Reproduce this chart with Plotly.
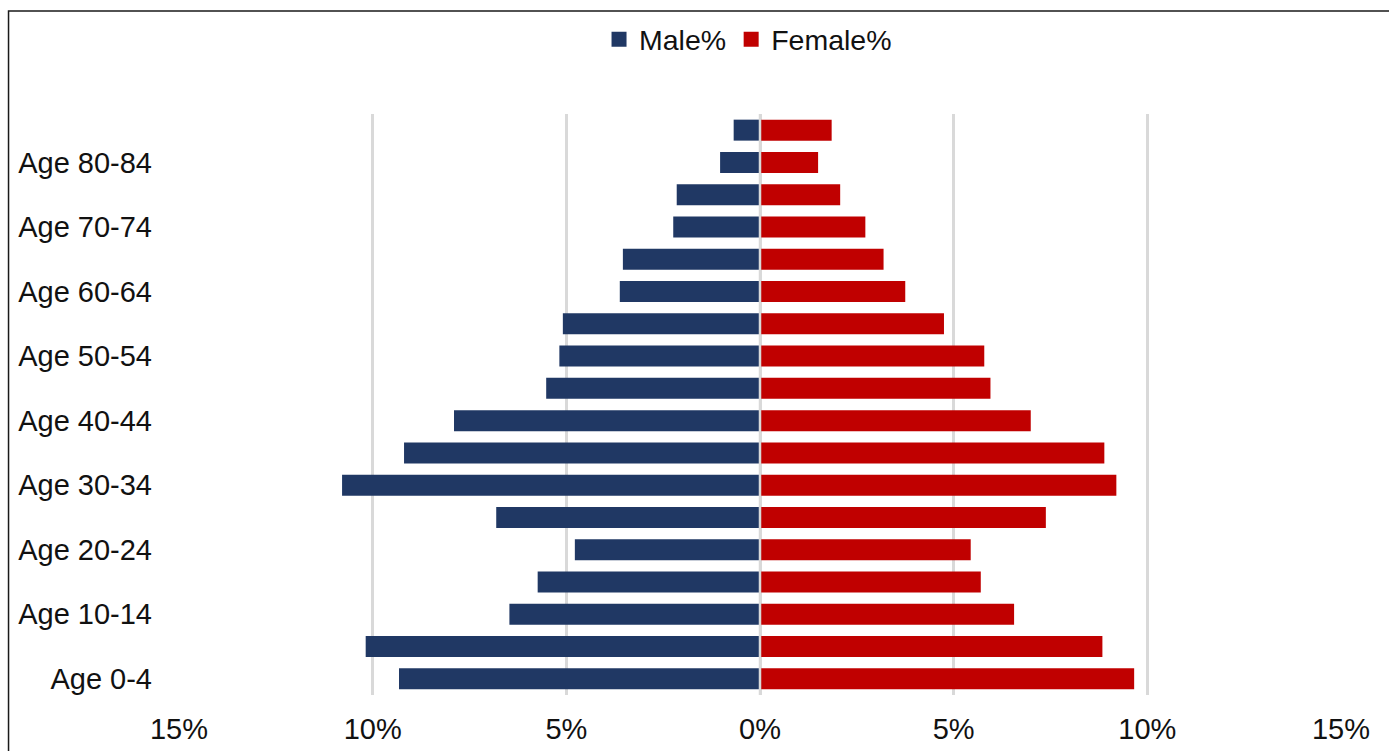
import plotly.graph_objects as go

# Age bands, youngest first (drawn bottom to top)
age_groups = [
    "Age 0-4", "Age 5-9", "Age 10-14", "Age 15-19", "Age 20-24", "Age 25-29",
    "Age 30-34", "Age 35-39", "Age 40-44", "Age 45-49", "Age 50-54", "Age 55-59",
    "Age 60-64", "Age 65-69", "Age 70-74", "Age 75-79", "Age 80-84", "Age 85+",
]
male_pct = [9.32, 10.18, 6.47, 5.74, 4.78, 6.81, 10.79, 9.19, 7.90, 5.52,
            5.18, 5.09, 3.62, 3.54, 2.24, 2.15, 1.03, 0.68]
female_pct = [9.66, 8.84, 6.56, 5.70, 5.44, 7.38, 9.20, 8.89, 6.99, 5.95,
              5.79, 4.75, 3.75, 3.19, 2.72, 2.07, 1.50, 1.85]

x_ticks = [-15, -10, -5, 0, 5, 10, 15]
x_tick_text = ["15%", "10%", "5%", "0%", "5%", "10%", "15%"]
y_label_groups = age_groups[0:17:2]  # every other band: Age 0-4 ... Age 80-84

MALE_COLOR = "#203864"
FEMALE_COLOR = "#C00000"
FONT = "Liberation Sans, Arial, sans-serif"

fig = go.Figure()
fig.add_trace(go.Bar(
    y=age_groups, x=[-v for v in male_pct], orientation="h", name="Male%",
    marker=dict(color=MALE_COLOR, line=dict(width=0)),
    legendgroup="m", showlegend=False,
))
fig.add_trace(go.Bar(
    y=age_groups, x=female_pct, orientation="h", name="Female%",
    marker=dict(color=FEMALE_COLOR, line=dict(width=0)),
    legendgroup="f", showlegend=False,
))

# Legend entries with larger square keys
for name, color, group in [("Male%", MALE_COLOR, "m"), ("Female%", FEMALE_COLOR, "f")]:
    fig.add_trace(go.Scatter(
        x=[None], y=[None], mode="markers", name=name, legendgroup=group,
        marker=dict(symbol="square", size=15, color=color),
        hoverinfo="skip",
    ))

# Centre line at 0% showing between the two halves of each bar
fig.add_shape(type="line", xref="x", yref="paper", x0=0, x1=0, y0=0, y1=1,
              line=dict(color="#D9D9D9", width=2.5), layer="above")

# Chart frame
fig.add_shape(type="rect", xref="paper", yref="paper",
              x0=-0.1467, x1=1.06, y0=-0.12, y1=1.1771,
              line=dict(color="#1a1a1a", width=1.5), layer="above")

fig.update_layout(
    width=1389, height=751,
    margin=dict(l=178.5, r=48, t=114, b=55.5, pad=0, autoexpand=False),
    paper_bgcolor="white", plot_bgcolor="white",
    barmode="relative", bargap=0.35,
    font=dict(family=FONT, size=29, color="#111111"),
    legend=dict(orientation="h", x=0.4897, xanchor="center",
                yref="container", y=0.947, yanchor="middle",
                font=dict(size=28.5), traceorder="normal",
                itemclick=False, itemdoubleclick=False),
    xaxis=dict(range=[-15, 15], tickvals=x_ticks, ticktext=x_tick_text,
               showgrid=True, gridcolor="#D9D9D9", gridwidth=2.5,
               zeroline=False, showline=False, ticks="",
               ticklabelstandoff=14, fixedrange=True, automargin=False),
    yaxis=dict(categoryorder="array", categoryarray=age_groups,
               tickvals=y_label_groups, showgrid=False, zeroline=False,
               showline=False, ticks="", ticklabelstandoff=26,
               range=[-0.5, len(age_groups) - 0.5], fixedrange=True,
               automargin=False),
    showlegend=True,
)

fig.write_html("out.html")
